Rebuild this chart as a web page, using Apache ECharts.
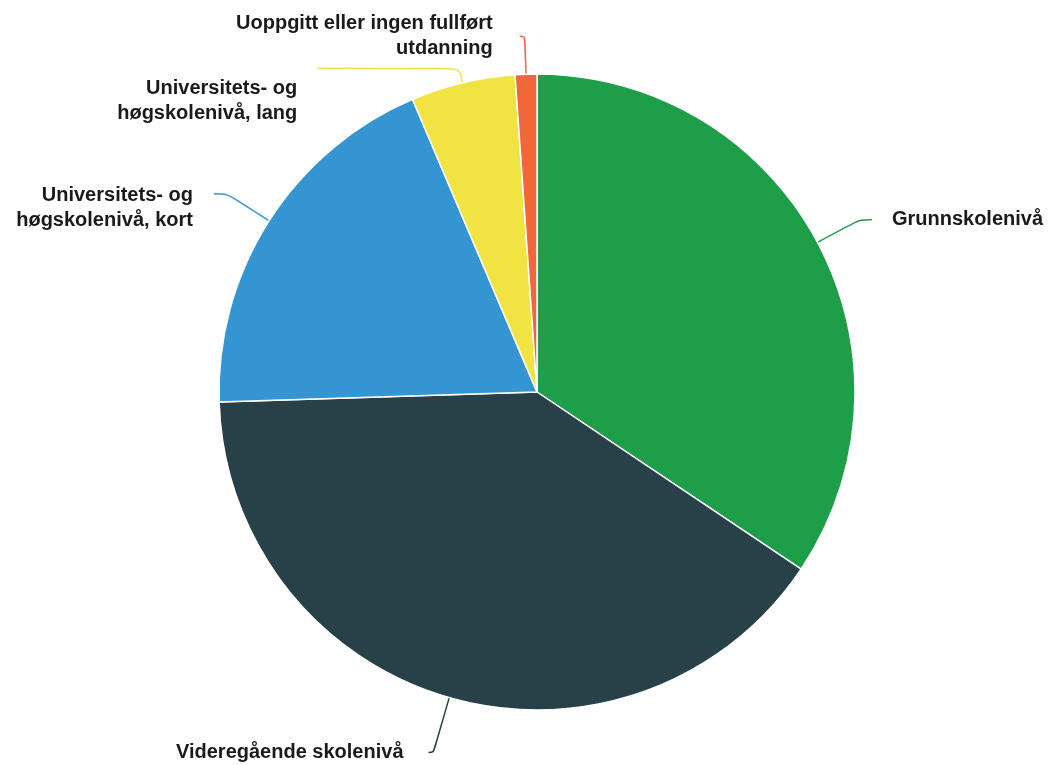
<!DOCTYPE html>
<html>
<head>
<meta charset="utf-8">
<script src="https://cdn.jsdelivr.net/npm/echarts@6/dist/echarts.min.js"></script>
<style>html,body{margin:0;padding:0;background:#fff}#c{width:1049px;height:765px}</style>
</head>
<body>
<div id="c"></div>
<script>
const categories = ["Grunnskolenivå", "Videregående skolenivå", "Universitets- og høgskolenivå, kort", "Universitets- og høgskolenivå, lang", "Uoppgitt eller ingen fullført utdanning"];
const labelTexts = ["Grunnskolenivå", "Videregående skolenivå", "Universitets- og\nhøgskolenivå, kort", "Universitets- og\nhøgskolenivå, lang", "Uoppgitt eller ingen fullført\nutdanning"];
const values = [34.4, 40.1, 19.1, 5.3, 1.1];
const colors = ["#1f9e4a", "#284148", "#3595d3", "#f0e342", "#f0673a"];
const lineLen = [[48, 12], [57, 5], [50, 13], [15, 142], [38, 5]];
const labelShift = [0, 0, 28, 66, 0];
const labelGap = [20, 25, 21, 20, 27];

const chart = echarts.init(document.getElementById('c'));
chart.setOption({
  animation: false,
  series: [{
    type: 'pie',
    center: [537, 392],
    radius: 318,
    startAngle: 90,
    clockwise: true,
    avoidLabelOverlap: false,
    labelLayout: { hideOverlap: false },
    itemStyle: { borderColor: '#fff', borderWidth: 1.5 },
    label: {
      show: true,
      position: 'outside',
      color: '#1a1a1a',
      fontFamily: 'Liberation Sans, Arial, sans-serif',
      fontWeight: 'bold',
      fontSize: 20,
      lineHeight: 25,
      distanceToLabelLine: 20,
      rich: { s: { lineHeight: 1, height: 1 } },
      formatter: p => labelShift[p.dataIndex] ? '{s|}\n' + labelTexts[p.dataIndex] : labelTexts[p.dataIndex]
    },
    labelLine: { show: true, smooth: 0.3, lineStyle: { width: 1.5 } },
    data: categories.map((n, i) => ({
      name: n,
      value: values[i],
      itemStyle: { color: colors[i] },
      label: Object.assign({ distanceToLabelLine: labelGap[i] },
        labelShift[i] ? { rich: { s: { lineHeight: labelShift[i], height: labelShift[i] } } } : {}),
      labelLine: { length: lineLen[i][0], length2: lineLen[i][1] }
    }))
  }]
});
</script>
</body>
</html>
